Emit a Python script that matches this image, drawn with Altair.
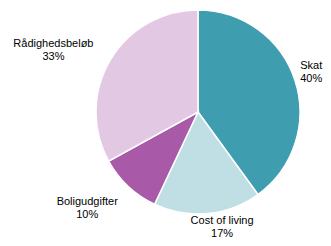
import math
import altair as alt
import pandas as pd

categories = ["Skat", "Cost of living", "Boligudgifter", "Rådighedsbeløb"]
values = [40, 17, 10, 33]
colors = ["#3f9db0", "#bfdfe4", "#a85aa8", "#e3c8e3"]

df = pd.DataFrame({
    "idx": list(range(len(categories))),
    "category": categories,
    "value": values,
})
df["label"] = [[c, f"{v}%"] for c, v in zip(categories, values)]

CX, CY = 190, 104
theta_scale = alt.Scale(domain=[0, 100], range=[0, 2 * math.pi])

base = alt.Chart(df)

arcs = base.mark_arc(outerRadius=102, stroke="white", strokeWidth=1.5).encode(
    theta=alt.Theta("value:Q", stack=True, scale=theta_scale),
    color=alt.Color("category:N", scale=alt.Scale(domain=categories, range=colors), legend=None),
    order=alt.Order("idx:Q"),
    x=alt.value(CX),
    y=alt.value(CY),
)

label_base = base.transform_window(
    cum="sum(value)", sort=[{"field": "idx"}], frame=[None, 0]
).transform_calculate(mid="datum.cum - datum.value / 2")

offsets = {
    "Skat": (1, -10),
    "Cost of living": (13, -8),
    "Boligudgifter": (-30, 4),
    "Rådighedsbeløb": (-43, -8),
}

layers = [arcs]
for cat in categories:
    dx, dy = offsets[cat]
    t = label_base.transform_filter(alt.datum.category == cat).mark_text(
        radius=118, dx=dx, dy=dy, align="center", baseline="middle",
        font="Liberation Sans", fontSize=11, lineHeight=13, color="#000000",
    ).encode(
        theta=alt.Theta("mid:Q", scale=theta_scale),
        text="label",
        x=alt.value(CX),
        y=alt.value(CY),
    )
    layers.append(t)

chart = alt.layer(*layers).properties(
    width=315, height=230, padding=0, autosize=alt.AutoSizeParams(type="none")
).configure_view(stroke=None)

chart.save("out.html", embed_options={"renderer": "svg", "actions": False})
